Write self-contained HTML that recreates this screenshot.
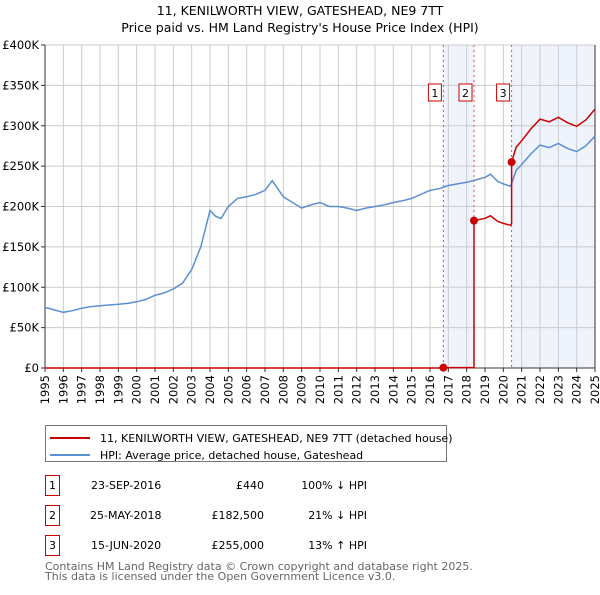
<!DOCTYPE html>
<html><head><meta charset="utf-8"><style>
body{margin:0;background:#fff;font-family:"Liberation Sans","DejaVu Sans",sans-serif;}
svg text{font-family:"DejaVu Sans","Liberation Sans",sans-serif;}
</style></head><body>
<svg id="c" width="600" height="590" xmlns="http://www.w3.org/2000/svg">
<text x="300" y="15" text-anchor="middle" font-size="12.5">11, KENILWORTH VIEW, GATESHEAD, NE9 7TT</text>
<text x="300" y="32" text-anchor="middle" font-size="12.5">Price paid vs. HM Land Registry's House Price Index (HPI)</text>
<g id="plot"></g>
<rect x="45.5" y="425.5" width="401" height="36" fill="#fff" stroke="#777"/>
<line x1="50" y1="438" x2="90" y2="438" stroke="#cc0000" stroke-width="2"/>
<text x="100" y="442" font-size="11">11, KENILWORTH VIEW, GATESHEAD, NE9 7TT (detached house)</text>
<line x1="50" y1="455" x2="90" y2="455" stroke="#5b8fd4" stroke-width="2"/>
<text x="100" y="459" font-size="11">HPI: Average price, detached house, Gateshead</text>
<g font-size="11">
<rect x="45.5" y="475.5" width="14" height="20" fill="none" stroke="#cc0000"/><text x="52.5" y="489" text-anchor="middle">1</text>
<text x="91" y="489">23-SEP-2016</text><text x="264" y="489" text-anchor="end">£440</text><text x="367" y="489" text-anchor="end">100% ↓ HPI</text>
<rect x="45.5" y="505.5" width="14" height="20" fill="none" stroke="#cc0000"/><text x="52.5" y="519" text-anchor="middle">2</text>
<text x="90" y="519">25-MAY-2018</text><text x="264" y="519" text-anchor="end">£182,500</text><text x="367" y="519" text-anchor="end">21% ↓ HPI</text>
<rect x="45.5" y="535.5" width="14" height="20" fill="none" stroke="#cc0000"/><text x="52.5" y="549" text-anchor="middle">3</text>
<text x="91" y="549">15-JUN-2020</text><text x="264" y="549" text-anchor="end">£255,000</text><text x="367" y="549" text-anchor="end">13% ↑ HPI</text>
</g>
<text x="45" y="570" font-size="11" fill="#666">Contains HM Land Registry data © Crown copyright and database right 2025.</text>
<text x="45" y="580" font-size="11" fill="#666">This data is licensed under the Open Government Licence v3.0.</text>
</svg>
<script>
const hpiYears=[1995,1995.5,1996,1996.5,1997,1997.5,1998,1998.5,1999,1999.5,2000,2000.5,2001,2001.5,2002,2002.5,2003,2003.5,2004,2004.3,2004.6,2005,2005.5,2006,2006.5,2007,2007.4,2007.7,2008,2008.5,2009,2009.5,2010,2010.5,2011,2011.5,2012,2012.5,2013,2013.5,2014,2014.5,2015,2015.5,2016,2016.5,2017,2017.5,2018,2018.5,2019,2019.3,2019.7,2020,2020.4,2020.7,2021,2021.5,2022,2022.5,2023,2023.5,2024,2024.5,2025];
const hpiValues=[75000,72000,69000,71000,74000,76000,77000,78000,79000,80000,82000,85000,90000,93000,98000,105000,122000,150000,195000,188000,185000,200000,210000,212000,215000,220000,232000,222000,212000,205000,198000,202000,205000,200000,200000,198000,195000,198000,200000,202000,205000,207000,210000,215000,220000,222000,226000,228000,230000,233000,236000,240000,231000,228000,225000,245000,252000,265000,276000,273000,278000,272000,268000,275000,287000];
const saleYears=[2016.73,2018.4,2020.45];
const salePrices=[440,182500,255000];
const yTicks=[0,50000,100000,150000,200000,250000,300000,350000,400000];
const yTickLabels=["£0","£50K","£100K","£150K","£200K","£250K","£300K","£350K","£400K"];
const xTicks=[1995,1996,1997,1998,1999,2000,2001,2002,2003,2004,2005,2006,2007,2008,2009,2010,2011,2012,2013,2014,2015,2016,2017,2018,2019,2020,2021,2022,2023,2024,2025];
const X0=45,X1=595,Y0=368,Y1=45;
const xs=t=>X0+(t-1995)/30*(X1-X0);
const ys=v=>Y0-v/400000*(Y0-Y1);
const NS='http://www.w3.org/2000/svg';
const g=document.getElementById('plot');
function el(tag,a,p){const e=document.createElementNS(NS,tag);for(const k in a)e.setAttribute(k,a[k]);(p||g).appendChild(e);return e;}
function hpiAt(t){for(let i=0;i<hpiYears.length-1;i++){if(t<=hpiYears[i+1]){const f=(t-hpiYears[i])/(hpiYears[i+1]-hpiYears[i]);return hpiValues[i]+f*(hpiValues[i+1]-hpiValues[i]);}}return hpiValues[hpiValues.length-1];}
el('rect',{x:X0,y:Y1,width:X1-X0,height:Y0-Y1,fill:'#fff'});
let s1=el('rect',{x:xs(saleYears[0]),y:Y1,width:xs(saleYears[1])-xs(saleYears[0]),height:Y0-Y1,fill:'#eef3fc'});


let s2=el('rect',{x:xs(saleYears[2]),y:Y1,width:X1-xs(saleYears[2]),height:Y0-Y1,fill:'#eef3fc'});


yTicks.forEach((v,i)=>{
 el('line',{x1:X0,x2:X1,y1:ys(v),y2:ys(v),stroke:'#ccc'});
 el('line',{x1:X0-4,x2:X0,y1:ys(v),y2:ys(v),stroke:'#333'});
 const t=el('text',{x:X0-6,y:ys(v)+4,'text-anchor':'end','font-size':'11.5'});t.textContent=yTickLabels[i];
 
 
});
xTicks.forEach(yr=>{
 el('line',{x1:xs(yr),x2:xs(yr),y1:Y1,y2:Y0,stroke:'#ccc'});
 el('line',{x1:xs(yr),x2:xs(yr),y1:Y0,y2:Y0+4,stroke:'#333'});
 const t=el('text',{x:0,y:0,'text-anchor':'end','font-size':'11.5',transform:`translate(${xs(yr)+4},${Y0+7}) rotate(-90)`});t.textContent=yr;
 
 
});
el('line',{x1:X0,x2:X0,y1:Y1,y2:Y0,stroke:'#333'});
el('line',{x1:X0,x2:X1,y1:Y0,y2:Y0,stroke:'#333'});
el('line',{x1:X1,x2:X1,y1:Y1,y2:Y0,stroke:'#333'});
saleYears.forEach((t,i)=>{
 el('line',{x1:xs(t),x2:xs(t),y1:Y1,y2:Y0,stroke:'#e05050','stroke-dasharray':'2,3','stroke-width':1});
 const b=el('rect',{x:xs(t)-15,y:84,width:13,height:17,fill:'#fff',stroke:'#cc0000'});
 
 
 const tx=el('text',{x:xs(t)-8.5,y:97,'text-anchor':'middle','font-size':'11'});tx.textContent=i+1;
});
let d='';
hpiYears.forEach((t,i)=>{d+=(i?'L':'M')+xs(t).toFixed(1)+','+ys(hpiValues[i]).toFixed(1);});
const hp=el('path',{d:d,fill:'none',stroke:'#5b8fd4','stroke-width':1.5});


let rd='M'+xs(1995)+','+ys(0)+'L'+xs(saleYears[0])+','+ys(0);
for(let k=0;k<saleYears.length;k++){
 const end=k+1<saleYears.length?saleYears[k+1]:2025;
 const r=salePrices[k]/hpiAt(saleYears[k]);
 rd+='L'+xs(saleYears[k]).toFixed(1)+','+ys(salePrices[k]).toFixed(1);
 hpiYears.forEach((t,i)=>{if(t>saleYears[k]&&t<end)rd+='L'+xs(t).toFixed(1)+','+ys(hpiValues[i]*r).toFixed(1);});
 rd+='L'+xs(end).toFixed(1)+','+ys(hpiAt(end)*r).toFixed(1);
}
const rp=el('path',{d:rd,fill:'none',stroke:'#cc0000','stroke-width':1.5});


saleYears.forEach((t,i)=>{
 const c=el('circle',{cx:xs(t),cy:ys(salePrices[i]),r:4,fill:'#cc0000'});
 
 
});
</script>
</body></html>
